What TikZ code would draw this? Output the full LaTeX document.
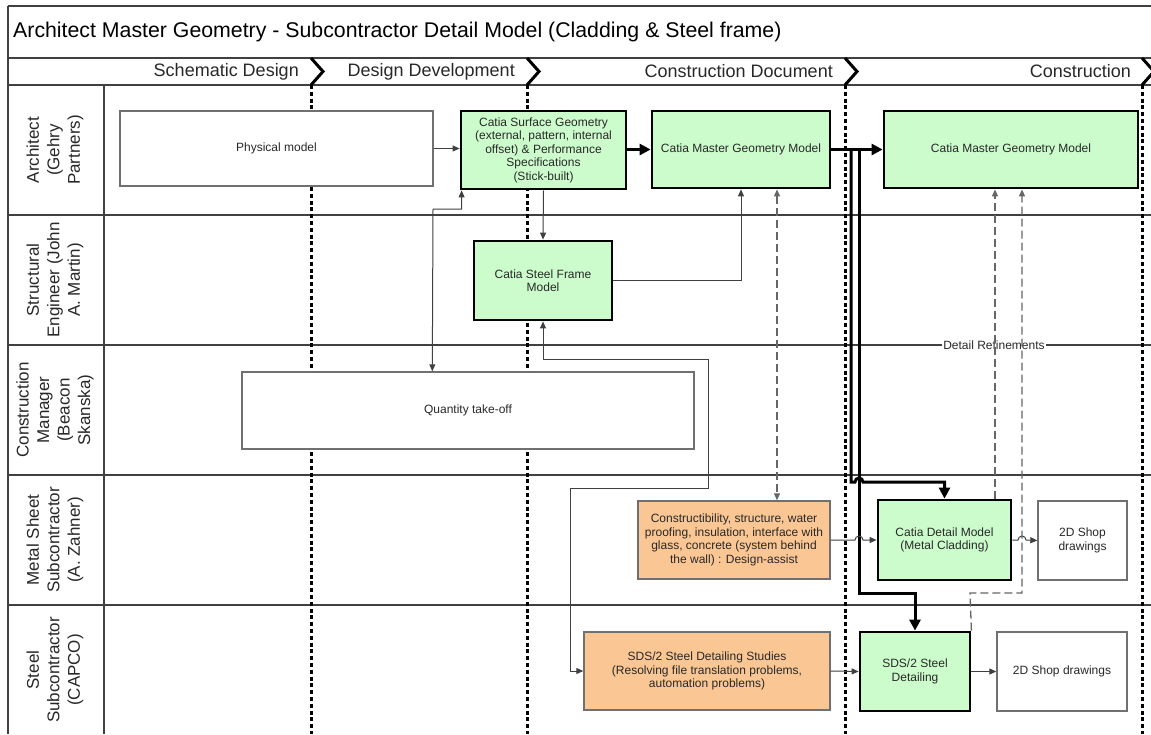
\documentclass[tikz,border=0pt]{standalone}
\usepackage{fontspec}
\setmainfont{Liberation Sans}
\usetikzlibrary{arrows.meta,calc}
\definecolor{gbox}{RGB}{204,252,204}
\definecolor{obox}{RGB}{250,199,148}
\definecolor{laneln}{RGB}{64,64,64}
\definecolor{boxln}{RGB}{112,112,112}
\definecolor{txt}{RGB}{40,40,40}
\begin{document}
\begin{tikzpicture}[x=1pt,y=-1pt,
  boxtext/.style={font=\fontsize{12}{13.5}\selectfont, text=txt, align=center, inner sep=1pt},
  gnode/.style={boxtext, draw=black, line width=2.8pt, fill=gbox},
  wnode/.style={boxtext, draw=boxln, line width=1.4pt, fill=white},
  onode/.style={boxtext, draw=boxln, line width=1.4pt, fill=obox},
  lanelbl/.style={font=\fontsize{17}{20.5}\selectfont, text=txt, align=center, rotate=90},
  phaselbl/.style={font=\fontsize{18}{20}\selectfont, text=txt, anchor=east, inner sep=0pt},
  laneline/.style={draw=laneln, line width=1.4pt},
  phasediv/.style={line width=3pt, dash pattern=on 4pt off 2.8pt},
  chev/.style={line width=3pt, line join=miter},
  thinarr/.style={draw=black!75, line width=1pt, -{Triangle[length=7pt,width=6pt]}},
  thinbi/.style={draw=black!75, line width=1pt, {Triangle[length=7pt,width=6pt]}-{Triangle[length=7pt,width=6pt]}},
  thickarr/.style={line width=3pt, -{Triangle[length=11pt,width=11pt]}},
  dasharr/.style={draw=black!60, line width=1.3pt, dash pattern=on 8pt off 4pt, -{Triangle[length=7pt,width=6pt]}},
  dashbi/.style={draw=black!60, line width=1.3pt, dash pattern=on 8pt off 4pt, {Triangle[length=7pt,width=6pt]}-{Triangle[length=7pt,width=6pt]}}
]
\useasboundingbox (0,0) rectangle (1151,734);
\fill[white] (0,0) rectangle (1151,734);

% frame and lanes
\draw[laneline] (8,6) -- (1151,6);
\draw[laneline] (8,58) -- (1151,58);
\draw[laneline] (8,85) -- (1151,85);
\foreach \y in {215,345,475,605} \draw[laneline] (8,\y) -- (1151,\y);
\draw[laneline] (8,6) -- (8,734);
\draw[laneline] (104,85) -- (104,734);

% title
\node[anchor=west, font=\fontsize{21.3}{24}\selectfont, inner sep=0pt] (title) at (13,32) {Architect Master Geometry - Subcontractor Detail Model (Cladding \& Steel frame)};

% phases
\foreach \x in {311,527,845,1142} {
  \draw[phasediv] (\x,85) -- (\x,734);
  \draw[chev] (\x,58) -- (\x+12,71.5) -- (\x,85);
}
\node[phaselbl] (p1) at (299,71.5) {Schematic Design};
\node[phaselbl] (p2) at (515,71.5) {Design Development};
\node[phaselbl] (p3) at (833,71.5) {Construction Document};
\node[phaselbl] (p4) at (1131,71.5) {Construction};

% lane labels
\node[lanelbl] (l1) at (55,150) {Architect\\(Gehry\\Partners)};
\node[lanelbl] (l2) at (55,280) {Structural\\Engineer (John\\A. Martin)};
\node[lanelbl] (l3) at (55,410) {Construction\\Manager\\(Beacon\\Skanska)};
\node[lanelbl] (l4) at (55,540) {Metal Sheet\\Subcontractor\\(A. Zahner)};
\node[lanelbl] (l5) at (55,670) {Steel\\Subcontractor\\(CAPCO)};

% boxes
\node[wnode, minimum width=313pt, minimum height=75pt] (phys) at (276.5,148.5) {Physical model};
\node[gnode, minimum width=165pt, minimum height=78pt] (surf) at (543.5,150) {Catia Surface Geometry\\(external, pattern, internal\\offset) \& Performance\\Specifications\\(Stick-built)};
\node[gnode, minimum width=178pt, minimum height=77pt] (mcd) at (741,149.5) {Catia Master Geometry Model};
\node[gnode, minimum width=254pt, minimum height=77pt] (mcon) at (1011,149.5) {Catia Master Geometry Model};
\node[gnode, minimum width=138pt, minimum height=79pt] (sf) at (543,280.5) {Catia Steel Frame\\Model};
\node[wnode, minimum width=452pt, minimum height=77pt] (qto) at (468,410.5) {Quantity take-off};
\node[onode, minimum width=192pt, minimum height=78pt] (cons) at (734,540) {Constructibility, structure, water\\proofing, insulation, interface with\\glass, concrete (system behind\\the wall) : Design-assist};
\node[gnode, minimum width=133pt, minimum height=80pt] (detail) at (944.5,540) {Catia Detail Model\\(Metal Cladding)};
\node[wnode, minimum width=89pt, minimum height=79pt] (shop1) at (1082.5,540.5) {2D Shop\\drawings};
\node[onode, minimum width=246pt, minimum height=78pt] (sdss) at (707,671) {SDS/2 Steel Detailing Studies\\(Resolving file translation problems,\\automation problems)};
\node[gnode, minimum width=110pt, minimum height=79pt] (sds) at (915,671.5) {SDS/2 Steel\\Detailing};
\node[wnode, minimum width=130pt, minimum height=79pt] (shop2) at (1062,671.5) {2D Shop drawings};

% connectors
\draw[thinarr] (phys.east) -- (surf.west |- phys.east);
\draw[thickarr] (surf.east |- mcd.west) -- (mcd.west);
\draw[thickarr] (mcd.east) -- (mcon.west);
\draw[thinarr] (surf.south) -- (sf.north);
\draw[thinarr] (sf.east) -| (mcd.south);
\draw[thinbi] ($(surf.south west)+(2,0)$) |- (433,209) -- ($(qto.north west)+(191,0)$);
\draw[thinbi] (sf.south) -- (543,359) -- (708,359) -- (708,488) -- (570,488) |- (sdss.west);
\draw[dashbi] ($(mcd.south)+(36,0)$) -- ($(cons.north)+(43,0)$);

\node[fill=white, font=\fontsize{12}{14}\selectfont, text=txt, inner sep=1pt] (dr) at (994,345) {Detail Refinements};

\draw[thickarr] (851,150) -- (851,482) -- (855,482) arc[start angle=180,end angle=0,radius=4pt] -- (detail.north |- 0,482) -- (detail.north);
\draw[thickarr] (859,150) -- (859,593) -- (sds.north |- 0,593) -- (sds.north);

\draw[thinarr] (cons.east) -- (855,540) arc[start angle=180,end angle=0,radius=4pt] -- (detail.west);
\draw[thinarr] (detail.east) -- (1018,540) arc[start angle=180,end angle=0,radius=4pt] -- (shop1.west);
\draw[thinarr] (sdss.east) -- (sds.west);
\draw[thinarr] (sds.east) -- (shop2.west);

\draw[dasharr] ($(detail.north)+(50.5,0)$) -- ($(mcon.south)+(-16,0)$);
\draw[dasharr] (sds.north east) -- (970,593) -| ($(mcon.south)+(11,0)$);
\end{tikzpicture}
\end{document}
